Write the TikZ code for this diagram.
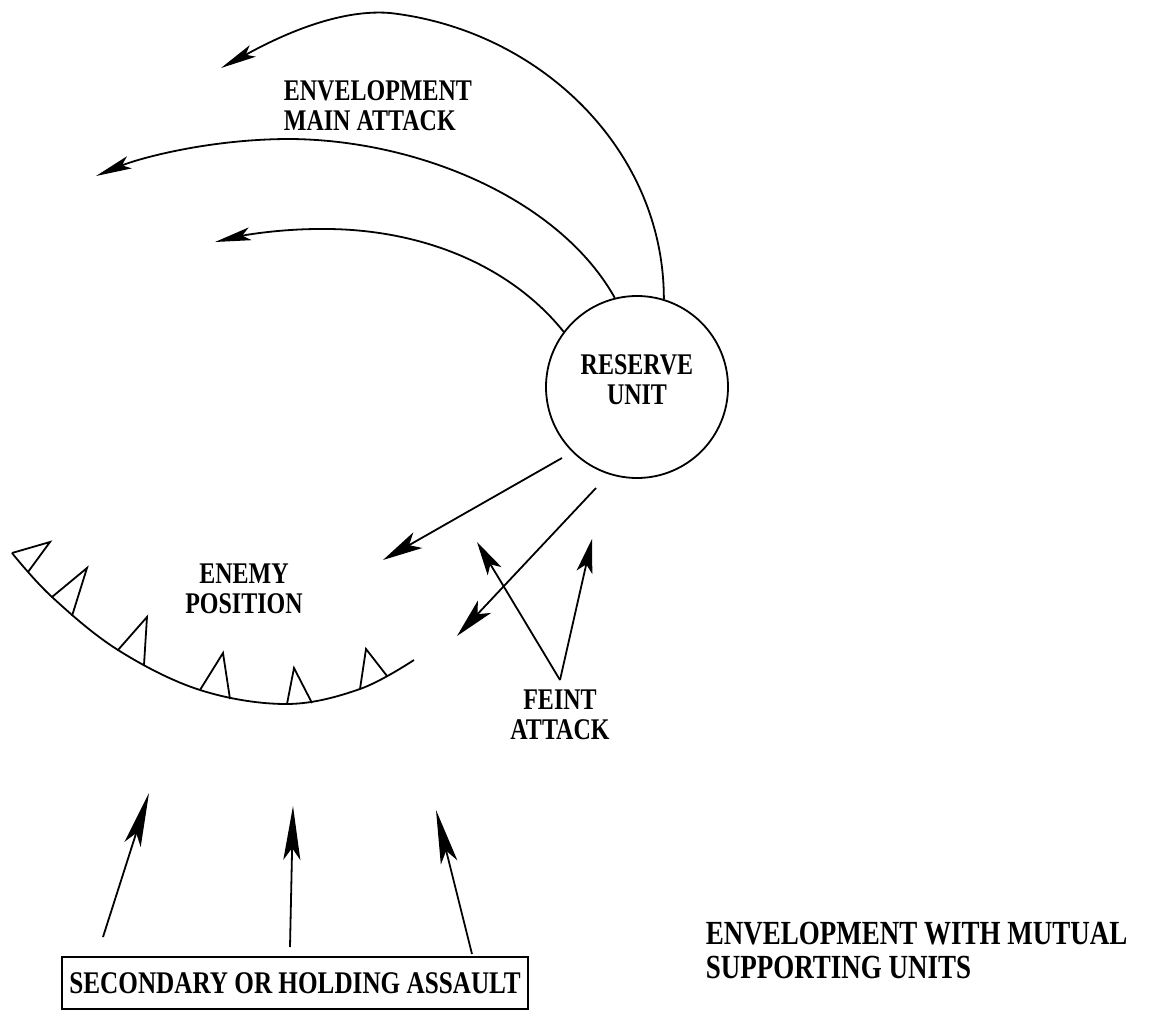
\documentclass[tikz,border=0pt]{standalone}
\usepackage{fontspec}
\setmainfont{Liberation Serif}
\usetikzlibrary{arrows.meta}
\newcommand{\talltxt}[1]{\scalebox{1}[1.25]{#1}}
\begin{document}
\begin{tikzpicture}[x=0.5pt,y=-0.5pt,line width=0.9pt,
  lbl/.style={font=\bfseries\fontsize{12}{14.8}\selectfont,align=center,inner sep=0pt},
  curvetip/.style={-{Stealth[length=18pt,width=6.5pt,inset=4pt]}},
  strtip/.style={-{Stealth[length=20pt,width=9pt,inset=5pt]}},
  feinttip/.style={-{Stealth[length=17pt,width=8pt,inset=4pt]}},
  longtip/.style={-{Stealth[length=27pt,width=8.5pt,inset=6pt]}}]
\useasboundingbox (0,0) rectangle (1157,1016);

% reserve unit
\node[draw,circle,minimum size=91pt,inner sep=0pt,
      label={[lbl,yshift=3.5pt]center:{\talltxt{RESERVE}\\\talltxt{UNIT}}}] (reserve) at (637,387) {};

% envelopment main attack arcs
\draw[curvetip] (reserve.73) .. controls (664,150) and (540,30) .. (390,13)
   .. controls (330,8) and (262,46) .. (221,68);
\draw[curvetip] (reserve.104) .. controls (560,200) and (420,140) .. (290,139)
   .. controls (210,139) and (140,158) .. (96,176);
\draw[curvetip] (reserve.143) .. controls (510,265) and (420,228) .. (320,229)
   .. controls (280,229) and (245,235) .. (215,242);

\node[lbl,align=left,anchor=north west] (envlbl) at (283,80) {\talltxt{ENVELOPMENT}\\\talltxt{MAIN ATTACK}};

% enemy position
\draw plot[smooth,tension=0.6] coordinates {(12,553) (52,597) (118,650) (200,690) (287,704) (360,689) (414,660)};
\draw (12,553) -- (50,542) -- (28,572);
\draw (52,597) -- (87,568) -- (72,616);
\draw (118,650) -- (147,617) -- (144,665);
\draw (200,690) -- (223,653) -- (230,699);
\draw (287,704) -- (294,668) -- (312,703);
\draw (360,689) -- (366,649) -- (387,676);
\node[lbl] (enemy) at (244,589) {\talltxt{ENEMY}\\\talltxt{POSITION}};

% arrows from reserve toward enemy
\coordinate (s1) at (562,458);
\coordinate (s2) at (596,488);
\coordinate (e1) at (383,560);
\coordinate (e2) at (457,636);
\draw[strtip] (s1) -- (e1);
\draw[strtip] (s2) -- (e2);

% feint attack
\coordinate (fv) at (560,680);
\coordinate (f1) at (477,542);
\coordinate (f2) at (592,539);
\draw[feinttip] (fv) -- (f1);
\draw[feinttip] (fv) -- (f2);
\node[lbl] (feint) at (560,715) {\talltxt{FEINT}\\\talltxt{ATTACK}};

% secondary or holding assault
\node[draw,inner sep=0pt,minimum width=233pt,minimum height=26pt,
      font=\bfseries\fontsize{12.6}{15}\selectfont] (sec) at (295,983) {\talltxt{SECONDARY OR HOLDING ASSAULT}};
\coordinate (b1) at (103,937);
\coordinate (b2) at (290,947);
\coordinate (b3) at (472,954);
\coordinate (t1) at (149,793);
\coordinate (t2) at (293,806);
\coordinate (t3) at (436,810);
\draw[longtip] (b1) -- (t1);
\draw[longtip] (b2) -- (t2);
\draw[longtip] (b3) -- (t3);

% title
\node[anchor=north west,align=left,inner sep=0pt,
      font=\bfseries\fontsize{13.5}{17}\selectfont] (title) at (705,921)
      {\talltxt{ENVELOPMENT WITH MUTUAL}\\\talltxt{SUPPORTING UNITS}};
\end{tikzpicture}
\end{document}
